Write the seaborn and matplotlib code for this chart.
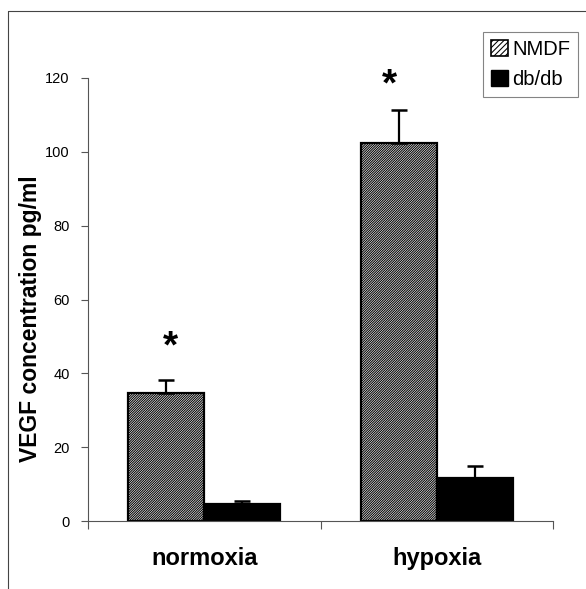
import numpy as np
import pandas as pd
import matplotlib
matplotlib.use("Agg")
import matplotlib.pyplot as plt
from matplotlib.patches import Patch
from matplotlib.lines import Line2D
import seaborn as sns

# ---- data ----
categories = ["normoxia", "hypoxia"]
groups = ["NMDF", "db/db"]
nmdf_values = [34.8, 102.3]
nmdf_errors = [3.4, 8.9]
dbdb_values = [4.5, 11.6]
dbdb_errors = [1.0, 3.3]
star_y = [47, 118]
y_ticks = [0, 20, 40, 60, 80, 100, 120]

df = pd.DataFrame({
    "condition": categories * 2,
    "group": [groups[0]] * 2 + [groups[1]] * 2,
    "value": nmdf_values + dbdb_values,
})

sns.set_theme(style="white")
plt.rcParams["font.family"] = ["Liberation Sans", "DejaVu Sans"]
plt.rcParams["hatch.linewidth"] = 0.75
plt.rcParams["hatch.color"] = "black"
plt.rcParams["text.color"] = "black"
plt.rcParams["axes.labelcolor"] = "black"
plt.rcParams["xtick.color"] = "black"
plt.rcParams["ytick.color"] = "black"

HATCH = "/" * 14

fig = plt.figure(figsize=(5.86, 5.89), dpi=100)
ax = fig.add_axes([0.150, 0.1154, 0.794, 0.7522])

sns.barplot(data=df, x="condition", y="value", hue="group", order=categories,
            hue_order=groups, palette=["white", "black"], edgecolor="black",
            linewidth=1.6, width=0.655, errorbar=None, legend=False, ax=ax)

bar_containers = list(ax.containers)

# hatch NMDF bars
for p in bar_containers[0]:
    p.set_hatch(HATCH)

# error bars (upper only)
errs = [nmdf_errors, dbdb_errors]
vals = [nmdf_values, dbdb_values]
for ci, cont in enumerate(bar_containers):
    for bi, p in enumerate(cont.patches):
        xc = p.get_x() + p.get_width() / 2
        ax.errorbar(xc, vals[ci][bi], yerr=[[0], [errs[ci][bi]]], fmt="none",
                    ecolor="black", elinewidth=1.6, capsize=6, capthick=1.8,
                    zorder=1)

# asterisks over NMDF bars
star_dx = [0.02, -0.04]
for bi, p in enumerate(bar_containers[0].patches):
    xc = p.get_x() + p.get_width() / 2
    ax.text(xc + star_dx[bi], star_y[bi], "*", ha="center", va="center",
            fontsize=28, fontweight="bold", color="black")

ax.set_xlim(-0.5, 1.5)
ax.set_ylim(0, 120)
ax.set_yticks(y_ticks)
ax.set_yticklabels([str(t) for t in y_ticks], fontsize=10.5)
ax.set_xticks([0, 1])
ax.set_xticklabels(categories, fontsize=17, fontweight="bold")
ax.set_xticks([-0.5, 0.5, 1.5], minor=True)
ax.tick_params(axis="x", which="major", length=0, pad=19)
ax.tick_params(axis="x", which="minor", length=6, width=0.8, color="#555555",
               direction="out", bottom=True)
ax.tick_params(axis="y", length=5, width=0.8, color="#555555", labelcolor="black",
               direction="out", left=True, pad=8)

ax.set_xlabel("")
ax.set_ylabel("VEGF concentration pg/ml", fontsize=16.5, fontweight="bold")
ax.yaxis.set_label_coords(-0.099, 0.456)

sns.despine(ax=ax, top=True, right=True)
for s in ["left", "bottom"]:
    ax.spines[s].set_color("#555555")
    ax.spines[s].set_linewidth(0.8)

# legend
handles = [Patch(facecolor="white", edgecolor="black", hatch="/" * 6, linewidth=1.2),
           Patch(facecolor="black", edgecolor="black")]
leg = fig.legend(handles, groups, loc="upper right",
                 bbox_to_anchor=(578 / 586, 1 - 32 / 589),
                 fontsize=14.5, frameon=True, fancybox=False,
                 handlelength=0.85, handleheight=0.85, handletextpad=0.2,
                 borderpad=0.4, labelspacing=0.55, borderaxespad=0)
leg.get_frame().set_edgecolor("#666666")
leg.get_frame().set_linewidth(0.8)

# figure frame lines (top and left)
fig.add_artist(Line2D([8 / 586, 1.0], [1 - 11 / 589, 1 - 11 / 589],
                      transform=fig.transFigure, color="#444444", lw=0.8))
fig.add_artist(Line2D([8 / 586, 8 / 586], [0, 1 - 11 / 589],
                      transform=fig.transFigure, color="#444444", lw=0.8))

fig.savefig("out.png", dpi=100)
